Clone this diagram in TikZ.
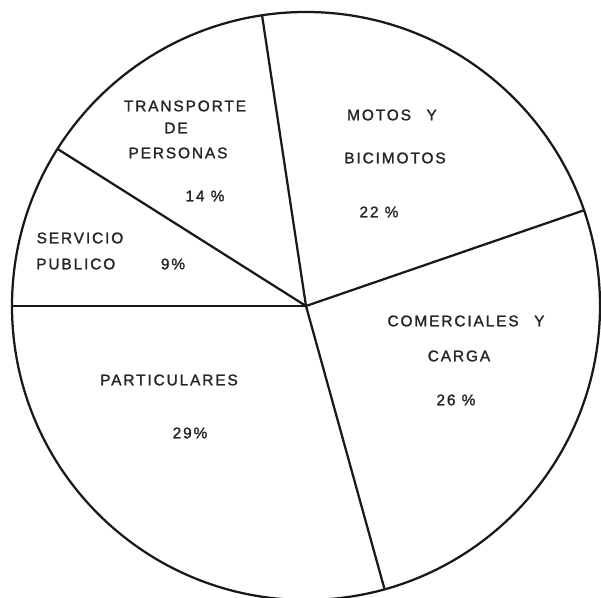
\documentclass[tikz,border=0pt]{standalone}
\usepackage{fontspec}
\newfontfamily\lettering[LetterSpace=12,FakeBold=1.5]{Liberation Sans}
\usetikzlibrary{positioning}

\tikzset{
  lbl/.style={font=\lettering\fontsize{11}{13}\selectfont,text=black!85,inner sep=0pt},
  spoke/.style={line width=1.6pt,black!90}
}

\begin{document}
\begin{tikzpicture}[x=0.025cm,y=0.025cm]
  \useasboundingbox (0,0) rectangle (601,598);
  \coordinate (c) at (306,292);
  \draw[spoke] (c) circle[radius=294];

  % borders between the slices
  \path (c) ++(98.6:294) coordinate (s1);
  \path (c) ++(147.7:294) coordinate (s2);
  \path (c) ++(180:294) coordinate (s3);
  \path (c) ++(-74.5:294) coordinate (s4);
  \path (c) ++(19:294) coordinate (s5);
  \foreach \s in {s1,s2,s3,s4,s5}
    \draw[spoke] (c) -- (\s);

  % labels
  \node[lbl] (transp) at (185,492) {TRANSPORTE};
  \node[lbl] (transpde) at (176,470) {DE};
  \node[lbl] (transppers) at (178,445) {PERSONAS};
  \node[lbl] (transpval) at (205,402) {14 \%};

  \node[lbl] (motos) at (392,483) {MOTOS\hspace{1em}Y};
  \node[lbl] (bicimotos) at (395,440) {BICIMOTOS};
  \node[lbl] (motosval) at (379,386) {22 \%};

  \node[lbl] (servicio) at (80,360) {SERVICIO};
  \node[lbl,anchor=west] (publico) at (36,334) {PUBLICO};
  \node[lbl] (servicioval) at (173,334) {9\%};

  \node[lbl] (comerciales) at (466,277) {COMERCIALES\hspace{1em}Y};
  \node[lbl] (carga) at (459,242) {CARGA};
  \node[lbl] (cargaval) at (456,198) {26 \%};

  \node[lbl] (particulares) at (169,218) {PARTICULARES};
  \node[lbl] (particularesval) at (190,165) {29\%};
\end{tikzpicture}
\end{document}
